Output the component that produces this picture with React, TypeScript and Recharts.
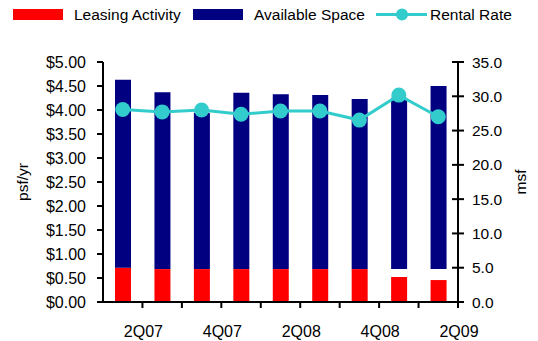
import React from 'react';
import { ComposedChart, Bar, Line, XAxis, YAxis } from 'recharts';

const quarters = ['2Q07', '3Q07', '4Q07', '1Q08', '2Q08', '3Q08', '4Q08', '1Q09', '2Q09'];
// msf (right axis)
const leasingActivity = [5.0, 4.8, 4.8, 4.8, 4.8, 4.8, 4.8, 3.65, 3.2];
const availableFrom = [5.0, 4.8, 4.8, 4.8, 4.8, 4.8, 4.8, 4.8, 4.8];
const availableTo = [32.4, 30.6, 27.6, 30.5, 30.3, 30.2, 29.6, 29.8, 31.5];
// psf/yr (left axis)
const rentalRate = [4.01, 3.96, 4.0, 3.91, 3.98, 3.98, 3.79, 4.31, 3.86];

const psfTicks = [0, 0.5, 1, 1.5, 2, 2.5, 3, 3.5, 4, 4.5, 5];
const msfTicks = [0, 5, 10, 15, 20, 25, 30, 35];

const data = quarters.map((quarter, i) => ({
  quarter,
  leasing: leasingActivity[i],
  spacer: availableFrom[i] - leasingActivity[i],
  available: availableTo[i] - availableFrom[i],
  rental: rentalRate[i],
}));

const W = 538;
const H = 341;
const LEFT_W = 103;
const RIGHT_W = 80;
const TOP = 62;
const X_H = 39;
const FONT = '"Liberation Sans", Arial, sans-serif';
const FS = 15.5;
const FS_TICK = 16;

const halfBand = (W - LEFT_W - RIGHT_W) / quarters.length / 2;
const midY = TOP + (H - TOP - X_H) / 2;

const QuarterTick = (props: any) => {
  const { x, y, payload } = props;
  const i = quarters.indexOf(payload.value);
  const bx = x + halfBand;
  return (
    <g>
      <line x1={bx} y1={y} x2={bx} y2={y + 6} stroke="#000" strokeWidth={2} />
      {i % 2 === 0 && (
        <text x={bx + 1} y={y + 35} textAnchor="middle" fill="#000" fontSize={FS_TICK} fontFamily={FONT}>
          {payload.value}
        </text>
      )}
    </g>
  );
};

const MsfTick = (props: any) => {
  const { x, y, payload } = props;
  return (
    <g>
      <line x1={x - 6} y1={y} x2={x + 6} y2={y} stroke="#000" strokeWidth={2} />
      <text x={x + 14} y={y} dy="0.36em" fill="#000" fontSize={FS} fontFamily={FONT}>
        {Number(payload.value).toFixed(1)}
      </text>
    </g>
  );
};

const sideTitle = (text: string, cx: number) => () => (
  <text
    x={cx}
    y={midY}
    transform={`rotate(-90, ${cx}, ${midY})`}
    textAnchor="middle"
    dominantBaseline="central"
    fill="#000"
    fontSize={FS}
    fontFamily={FONT}
  >
    {text}
  </text>
);

const LegendBar = () => (
  <svg width={W} height={30} style={{ position: 'absolute', left: 0, top: 0 }}>
    <g fontFamily={FONT} fontSize={FS} fill="#000">
      <rect x={13} y={9} width={50} height={11} fill="#FF0000" />
      <text x={74} y={20}>Leasing Activity</text>
      <rect x={193} y={9} width={50} height={11} fill="#000080" />
      <text x={254} y={20}>Available Space</text>
      <line x1={376} y1={14.5} x2={427} y2={14.5} stroke="#33CCCC" strokeWidth={3} />
      <circle cx={402} cy={14.5} r={6} fill="#33CCCC" />
      <text x={430} y={20}>Rental Rate</text>
    </g>
  </svg>
);

export default function App() {
  return (
    <div style={{ position: 'absolute', left: 0, top: 0, width: W, height: H, background: '#fff' }}>
      <ComposedChart width={W} height={H} data={data} margin={{ top: TOP, right: 0, bottom: 0, left: 0 }}>
        <XAxis
          dataKey="quarter"
          height={X_H}
          interval={0}
          tickSize={0}
          tickMargin={0}
          tick={<QuarterTick />}
          axisLine={{ stroke: '#000', strokeWidth: 2 }}
        />
        <YAxis
          yAxisId="left"
          orientation="left"
          width={LEFT_W}
          domain={[0, 5]}
          ticks={psfTicks}
          interval={0}
          tickFormatter={(v: number) => `$${v.toFixed(2)}`}
          tickSize={6}
          tickMargin={11}
          tick={{ fill: '#000', fontSize: FS_TICK, fontFamily: FONT }}
          tickLine={{ stroke: '#000', strokeWidth: 2 }}
          axisLine={{ stroke: '#000', strokeWidth: 2 }}
          label={sideTitle('psf/yr', 22)}
        />
        <YAxis
          yAxisId="right"
          orientation="right"
          width={RIGHT_W}
          domain={[0, 35]}
          ticks={msfTicks}
          interval={0}
          tickSize={0}
          tickMargin={0}
          tick={<MsfTick />}
          axisLine={{ stroke: '#000', strokeWidth: 2 }}
          label={sideTitle('msf', 520)}
        />
        <Bar yAxisId="right" dataKey="leasing" stackId="s" fill="#FF0000" barSize={16} isAnimationActive={false} />
        <Bar yAxisId="right" dataKey="spacer" stackId="s" fill="transparent" barSize={16} legendType="none" isAnimationActive={false} />
        <Bar yAxisId="right" dataKey="available" stackId="s" fill="#000080" barSize={16} isAnimationActive={false} />
        <Line
          yAxisId="left"
          type="linear"
          dataKey="rental"
          stroke="#33CCCC"
          strokeWidth={3}
          dot={{ r: 7.5, fill: '#33CCCC', stroke: 'none' }}
          activeDot={false}
          isAnimationActive={false}
        />
      </ComposedChart>
      <LegendBar />
    </div>
  );
}
